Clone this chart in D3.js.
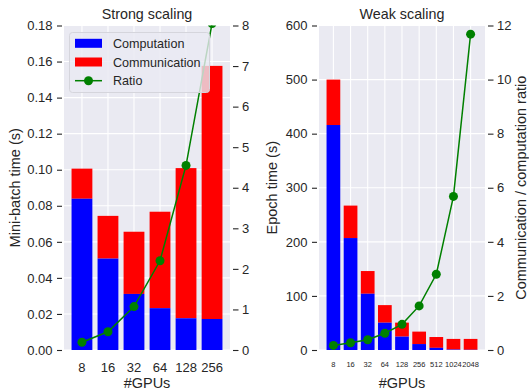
<!DOCTYPE html>
<html>
<head>
<meta charset="utf-8">
<script src="https://cdn.jsdelivr.net/npm/d3@7"></script>
<style>
  html, body { margin: 0; padding: 0; background: #fff; }
  svg { display: block; font-family: "Liberation Sans", Arial, sans-serif; }
</style>
</head>
<body>
<svg id="chart" width="529" height="390"></svg>
<script>
// Strong scaling: fixed problem size, mini-batch time per GPU count
const strongGpus = ["8", "16", "32", "64", "128", "256"];
const strongComputation = [0.0839, 0.0507, 0.0311, 0.0232, 0.0176, 0.0172];
const strongTotal = [0.1006, 0.0744, 0.0656, 0.0767, 0.1009, 0.1576];
const strongRatio = [0.19, 0.45, 1.07, 2.2, 4.55, 8.05];
const strongTimeTicks = [0, 0.02, 0.04, 0.06, 0.08, 0.10, 0.12, 0.14, 0.16, 0.18];
const strongRatioTicks = [0, 1, 2, 3, 4, 5, 6, 7, 8];

// Weak scaling: problem grows with GPU count, epoch time
const weakGpus = ["8", "16", "32", "64", "128", "256", "512", "1024", "2048"];
const weakComputation = [416, 207, 104, 50.5, 24.7, 11, 4, 0.8, 0.4];
const weakTotal = [500, 267, 146, 83, 50.6, 34, 24, 20.5, 20.5];
const weakRatio = [0.17, 0.27, 0.38, 0.62, 0.95, 1.63, 2.8, 5.68, 11.68];
const weakTimeTicks = [0, 100, 200, 300, 400, 500, 600];
const weakRatioTicks = [0, 2, 4, 6, 8, 10, 12];

const COLORS = { comp: "#0000ff", comm: "#ff0000", ratio: "#008000", bg: "#eaeaf2", text: "#262626" };
const FONT = '"Liberation Sans", Arial, sans-serif';

const svg = d3.select("#chart");

function panel(opts) {
  const { left, right, top, bottom, cats, comp, total, ratio,
          yMax, y2Max, yTicks, y2Ticks, yFmt, title, yLabel, y2Label,
          xTickSize, xTickY, clipId } = opts;
  const n = cats.length;
  // bar width 0.8 per slot, outer margin 5% of data span (bars edge to edge)
  const outer = 0.05 * (n - 0.2);
  const x = d3.scaleBand().domain(cats).range([left, right])
    .paddingInner(0.2).paddingOuter(outer);
  const y = d3.scaleLinear().domain([0, yMax]).range([bottom, top]);
  const y2 = d3.scaleLinear().domain([0, y2Max]).range([bottom, top]);

  const g = svg.append("g");
  g.append("rect").attr("x", left).attr("y", top)
    .attr("width", right - left).attr("height", bottom - top).attr("fill", COLORS.bg);

  // grid
  g.append("g").selectAll("line").data(yTicks).join("line")
    .attr("x1", left).attr("x2", right)
    .attr("y1", d => y(d)).attr("y2", d => y(d))
    .attr("stroke", "#fff").attr("stroke-width", 1.1);
  g.append("g").selectAll("line").data(cats).join("line")
    .attr("x1", d => x(d) + x.bandwidth() / 2).attr("x2", d => x(d) + x.bandwidth() / 2)
    .attr("y1", top).attr("y2", bottom)
    .attr("stroke", "#fff").attr("stroke-width", 1.1);

  // stacked bars: computation at the base, communication on top
  g.append("g").selectAll("rect").data(cats).join("rect")
    .attr("x", d => x(d)).attr("width", x.bandwidth())
    .attr("y", (d, i) => y(total[i])).attr("height", (d, i) => y(comp[i]) - y(total[i]))
    .attr("fill", COLORS.comm);
  g.append("g").selectAll("rect").data(cats).join("rect")
    .attr("x", d => x(d)).attr("width", x.bandwidth())
    .attr("y", (d, i) => y(comp[i])).attr("height", (d, i) => y(0) - y(comp[i]))
    .attr("fill", COLORS.comp);

  // ratio line on the secondary axis, clipped to the plot area
  svg.append("clipPath").attr("id", clipId).append("rect")
    .attr("x", left).attr("y", top).attr("width", right - left).attr("height", bottom - top);
  const lg = g.append("g").attr("clip-path", `url(#${clipId})`);
  const pts = cats.map((c, i) => [x(c) + x.bandwidth() / 2, y2(ratio[i])]);
  lg.append("path").attr("d", d3.line()(pts))
    .attr("fill", "none").attr("stroke", COLORS.ratio).attr("stroke-width", 1.5);
  lg.selectAll("circle").data(pts).join("circle")
    .attr("cx", d => d[0]).attr("cy", d => d[1]).attr("r", 4.5).attr("fill", COLORS.ratio);

  // axes
  const yAxis = d3.axisLeft(y).tickValues(yTicks).tickFormat(yFmt).tickSize(5).tickPadding(4.5);
  const ay = g.append("g").attr("transform", `translate(${left - 2},0)`).call(yAxis);
  const y2Axis = d3.axisRight(y2).tickValues(y2Ticks).tickFormat(d3.format("d")).tickSize(5.5).tickPadding(3.5);
  const ay2 = g.append("g").attr("transform", `translate(${right + 3},0)`).call(y2Axis);
  const xAxis = d3.axisBottom(x).tickSize(0).tickPadding(0);
  const ax = g.append("g").attr("transform", `translate(0,${bottom})`).call(xAxis);
  [ay, ay2, ax].forEach(a => {
    a.select(".domain").remove();
    a.selectAll(".tick line").attr("stroke", COLORS.text).attr("stroke-width", 1.1);
    a.selectAll(".tick text").attr("fill", COLORS.text).attr("font-size", 13)
      .attr("font-family", FONT);
  });
  ax.selectAll(".tick text").attr("font-size", xTickSize).attr("dy", null).attr("y", xTickY);

  g.append("text").attr("x", (left + right) / 2).attr("y", 18.5)
    .attr("text-anchor", "middle").attr("font-size", 14.3).attr("fill", COLORS.text).text(title);
  g.append("text").attr("x", (left + right) / 2).attr("y", 387.5)
    .attr("text-anchor", "middle").attr("font-size", 14.5).attr("fill", COLORS.text).text("#GPUs");
  g.append("text")
    .attr("transform", `translate(${opts.yLabelX},${(top + bottom) / 2}) rotate(-90)`)
    .attr("text-anchor", "middle").attr("font-size", 14.5).attr("fill", COLORS.text).text(yLabel);
  if (y2Label) {
    g.append("text")
      .attr("transform", `translate(${opts.y2LabelX},${(top + bottom) / 2}) rotate(-90)`)
      .attr("text-anchor", "middle").attr("font-size", 14.5).attr("fill", COLORS.text).text(y2Label);
  }
  return { x, y, y2, g };
}

panel({
  left: 64, right: 230, top: 25.5, bottom: 350,
  cats: strongGpus, comp: strongComputation, total: strongTotal, ratio: strongRatio,
  yMax: 0.18, y2Max: 8, yTicks: strongTimeTicks, y2Ticks: strongRatioTicks,
  yFmt: d3.format(".2f"), title: "Strong scaling", yLabel: "Mini-batch time (s)",
  yLabelX: 19.5, xTickSize: 13, xTickY: 21.5, clipId: "clip-strong"
});

panel({
  left: 319, right: 485, top: 25.5, bottom: 350,
  cats: weakGpus, comp: weakComputation, total: weakTotal, ratio: weakRatio,
  yMax: 600, y2Max: 12, yTicks: weakTimeTicks, y2Ticks: weakRatioTicks,
  yFmt: d3.format("d"), title: "Weak scaling", yLabel: "Epoch time (s)",
  y2Label: "Communication / computation ratio",
  yLabelX: 277, y2LabelX: 526, xTickSize: 7.5, xTickY: 17, clipId: "clip-weak"
});

// legend for the strong scaling panel
const legend = svg.append("g").attr("transform", "translate(69.5,32.5)");
legend.append("rect").attr("width", 140).attr("height", 60).attr("rx", 3)
  .attr("fill", COLORS.bg).attr("fill-opacity", 0.8)
  .attr("stroke", "#d5d5dc").attr("stroke-width", 1);
const entries = [
  { label: "Computation", type: "bar", color: COLORS.comp },
  { label: "Communication", type: "bar", color: COLORS.comm },
  { label: "Ratio", type: "line", color: COLORS.ratio }
];
entries.forEach((e, i) => {
  const cy = 10.8 + i * 18.7;
  if (e.type === "bar") {
    legend.append("rect").attr("x", 5.5).attr("y", cy - 4.5).attr("width", 27).attr("height", 9)
      .attr("fill", e.color);
  } else {
    legend.append("line").attr("x1", 5.5).attr("x2", 32.5).attr("y1", cy).attr("y2", cy)
      .attr("stroke", e.color).attr("stroke-width", 1.5);
    legend.append("circle").attr("cx", 19).attr("cy", cy).attr("r", 4.5).attr("fill", e.color);
  }
  legend.append("text").attr("x", 43.5).attr("y", cy + 4.5).attr("font-size", 12.6)
    .attr("fill", COLORS.text).text(e.label);
});
</script>
</body>
</html>
